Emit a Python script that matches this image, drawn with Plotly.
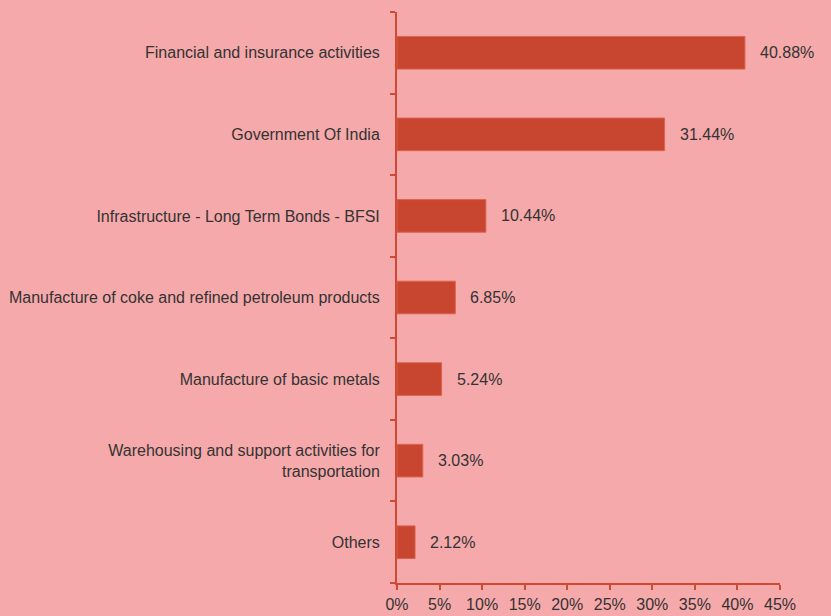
import plotly.graph_objects as go

categories = [
    "Financial and insurance activities",
    "Government Of India",
    "Infrastructure - Long Term Bonds - BFSI",
    "Manufacture of coke and refined petroleum products",
    "Manufacture of basic metals",
    "Warehousing and support activities for<br>transportation",
    "Others",
]
shares = [40.88, 31.44, 10.44, 6.85, 5.24, 3.03, 2.12]
x_ticks = [0, 5, 10, 15, 20, 25, 30, 35, 40, 45]
x_tick_labels = [f"{t}%" for t in x_ticks]

bg = "#F6A9AA"
bar_color = "#C8452F"
axis_color = "#D04A32"
text_color = "#333333"
font_family = "Liberation Sans, Arial, sans-serif"

fig = go.Figure(
    go.Bar(
        x=shares,
        y=categories,
        orientation="h",
        marker=dict(color=bar_color, line=dict(color="#D9644F", width=1)),
        width=0.4,
        hoverinfo="skip",
    )
)

# value labels to the right of each bar
for cat, val in zip(categories, shares):
    fig.add_annotation(
        x=val, y=cat, text=f"{val:.2f}%", showarrow=False,
        xanchor="left", xshift=13, yanchor="middle",
        font=dict(family=font_family, size=16, color=text_color),
    )

fig.update_layout(
    width=831, height=616,
    paper_bgcolor=bg, plot_bgcolor=bg,
    margin=dict(l=397, r=51, t=12, b=33),
    showlegend=False,
    font=dict(family=font_family, size=16, color=text_color),
    xaxis=dict(
        range=[0, 45], tickvals=x_ticks, ticktext=x_tick_labels,
        automargin=False,
        showgrid=False, zeroline=False,
        showline=True, linecolor=axis_color, linewidth=2,
        ticks="outside", ticklen=5, tickcolor=axis_color, tickwidth=2,
        ticklabelstandoff=1,
        tickfont=dict(size=16, color=text_color),
    ),
    yaxis=dict(
        categoryorder="array", categoryarray=categories[::-1],
        automargin=False,
        showgrid=False, zeroline=False,
        showline=True, linecolor=axis_color, linewidth=2,
        ticks="outside", tickson="boundaries", ticklen=5,
        tickcolor=axis_color, tickwidth=2,
        ticklabelstandoff=12,
        tickfont=dict(size=16, color=text_color),
    ),
)

fig.write_html("out.html")
